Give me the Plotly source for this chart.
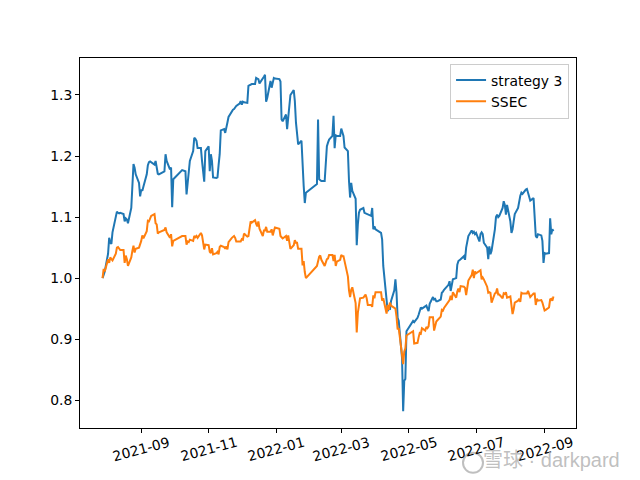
import plotly.graph_objects as go

# strategy 3 net value
strategy = [
    ("2021-07-28", 1.000), ("2021-07-29", 1.005), ("2021-07-30", 1.011), ("2021-08-02", 1.040),
    ("2021-08-03", 1.066), ("2021-08-04", 1.058), ("2021-08-05", 1.056), ("2021-08-06", 1.075),
    ("2021-08-09", 1.100), ("2021-08-10", 1.109), ("2021-08-11", 1.107), ("2021-08-12", 1.106),
    ("2021-08-13", 1.107), ("2021-08-16", 1.105), ("2021-08-17", 1.093), ("2021-08-18", 1.098),
    ("2021-08-19", 1.096), ("2021-08-20", 1.090), ("2021-08-23", 1.115), ("2021-08-24", 1.160),
    ("2021-08-25", 1.187), ("2021-08-26", 1.181), ("2021-08-27", 1.170), ("2021-08-30", 1.156),
    ("2021-08-31", 1.134), ("2021-09-01", 1.145), ("2021-09-02", 1.143), ("2021-09-03", 1.150),
    ("2021-09-06", 1.170), ("2021-09-07", 1.185), ("2021-09-08", 1.190), ("2021-09-09", 1.191),
    ("2021-09-10", 1.190), ("2021-09-13", 1.186), ("2021-09-14", 1.192), ("2021-09-15", 1.182),
    ("2021-09-16", 1.171), ("2021-09-17", 1.170), ("2021-09-22", 1.175), ("2021-09-23", 1.203),
    ("2021-09-24", 1.192), ("2021-09-27", 1.178), ("2021-09-28", 1.181), ("2021-09-29", 1.116),
    ("2021-09-30", 1.162), ("2021-10-08", 1.177), ("2021-10-11", 1.175), ("2021-10-12", 1.137),
    ("2021-10-13", 1.154), ("2021-10-14", 1.170), ("2021-10-15", 1.192), ("2021-10-18", 1.208),
    ("2021-10-19", 1.230), ("2021-10-20", 1.228), ("2021-10-21", 1.225), ("2021-10-22", 1.213),
    ("2021-10-25", 1.213), ("2021-10-26", 1.192), ("2021-10-27", 1.170), ("2021-10-28", 1.158),
    ("2021-10-29", 1.208), ("2021-11-01", 1.216), ("2021-11-02", 1.175), ("2021-11-03", 1.203),
    ("2021-11-04", 1.192), ("2021-11-05", 1.165), ("2021-11-08", 1.164), ("2021-11-09", 1.165),
    ("2021-11-10", 1.185), ("2021-11-11", 1.203), ("2021-11-12", 1.242), ("2021-11-15", 1.244),
    ("2021-11-16", 1.238), ("2021-11-17", 1.250), ("2021-11-18", 1.255), ("2021-11-19", 1.264),
    ("2021-11-22", 1.275), ("2021-11-23", 1.276), ("2021-11-24", 1.277), ("2021-11-25", 1.280),
    ("2021-11-26", 1.282), ("2021-11-29", 1.286), ("2021-11-30", 1.290), ("2021-12-01", 1.284),
    ("2021-12-02", 1.289), ("2021-12-03", 1.288), ("2021-12-06", 1.287), ("2021-12-07", 1.315),
    ("2021-12-08", 1.316), ("2021-12-09", 1.317), ("2021-12-10", 1.318), ("2021-12-13", 1.318),
    ("2021-12-14", 1.328), ("2021-12-15", 1.327), ("2021-12-16", 1.326), ("2021-12-17", 1.319),
    ("2021-12-20", 1.326), ("2021-12-21", 1.330), ("2021-12-22", 1.333), ("2021-12-23", 1.289),
    ("2021-12-24", 1.295), ("2021-12-27", 1.323), ("2021-12-28", 1.312), ("2021-12-29", 1.320),
    ("2021-12-30", 1.328), ("2021-12-31", 1.327), ("2022-01-04", 1.326), ("2022-01-05", 1.322),
    ("2022-01-06", 1.260), ("2022-01-07", 1.257), ("2022-01-10", 1.268), ("2022-01-11", 1.244),
    ("2022-01-12", 1.260), ("2022-01-13", 1.285), ("2022-01-14", 1.300), ("2022-01-17", 1.308),
    ("2022-01-18", 1.290), ("2022-01-19", 1.255), ("2022-01-20", 1.230), ("2022-01-21", 1.219),
    ("2022-01-24", 1.225), ("2022-01-25", 1.175), ("2022-01-26", 1.151), ("2022-01-27", 1.123),
    ("2022-01-28", 1.140), ("2022-02-07", 1.154), ("2022-02-08", 1.260), ("2022-02-09", 1.162),
    ("2022-02-10", 1.160), ("2022-02-11", 1.159), ("2022-02-14", 1.159), ("2022-02-15", 1.190),
    ("2022-02-16", 1.216), ("2022-02-17", 1.222), ("2022-02-18", 1.227), ("2022-02-21", 1.233),
    ("2022-02-22", 1.266), ("2022-02-23", 1.213), ("2022-02-24", 1.234), ("2022-02-25", 1.233),
    ("2022-02-28", 1.233), ("2022-03-01", 1.245), ("2022-03-02", 1.240), ("2022-03-03", 1.233),
    ("2022-03-04", 1.214), ("2022-03-07", 1.208), ("2022-03-08", 1.159), ("2022-03-09", 1.132),
    ("2022-03-10", 1.156), ("2022-03-11", 1.143), ("2022-03-14", 1.130), ("2022-03-15", 1.054),
    ("2022-03-16", 1.088), ("2022-03-17", 1.107), ("2022-03-18", 1.112), ("2022-03-21", 1.115),
    ("2022-03-22", 1.107), ("2022-03-23", 1.106), ("2022-03-24", 1.105), ("2022-03-25", 1.104),
    ("2022-03-28", 1.102), ("2022-03-29", 1.115), ("2022-03-30", 1.080), ("2022-03-31", 1.085),
    ("2022-04-01", 1.080), ("2022-04-06", 1.074), ("2022-04-07", 1.063), ("2022-04-08", 1.020),
    ("2022-04-11", 0.957), ("2022-04-12", 0.946), ("2022-04-13", 0.952), ("2022-04-14", 0.948),
    ("2022-04-15", 0.962), ("2022-04-18", 0.980), ("2022-04-19", 0.998), ("2022-04-20", 0.976),
    ("2022-04-21", 0.935), ("2022-04-22", 0.930), ("2022-04-25", 0.869), ("2022-04-26", 0.782),
    ("2022-04-27", 0.832), ("2022-04-28", 0.835), ("2022-04-29", 0.913), ("2022-05-05", 0.930),
    ("2022-05-06", 0.928), ("2022-05-09", 0.935), ("2022-05-10", 0.940), ("2022-05-11", 0.948),
    ("2022-05-12", 0.952), ("2022-05-13", 0.950), ("2022-05-16", 0.954), ("2022-05-17", 0.955),
    ("2022-05-18", 0.950), ("2022-05-19", 0.946), ("2022-05-20", 0.958), ("2022-05-23", 0.969),
    ("2022-05-24", 0.965), ("2022-05-25", 0.966), ("2022-05-26", 0.962), ("2022-05-27", 0.962),
    ("2022-05-30", 0.965), ("2022-05-31", 0.976), ("2022-06-01", 0.978), ("2022-06-02", 0.981),
    ("2022-06-06", 0.989), ("2022-06-07", 0.995), ("2022-06-08", 0.979), ("2022-06-09", 0.993),
    ("2022-06-10", 0.998), ("2022-06-13", 1.000), ("2022-06-14", 1.022), ("2022-06-15", 1.028),
    ("2022-06-16", 1.030), ("2022-06-17", 1.031), ("2022-06-20", 1.036), ("2022-06-21", 1.030),
    ("2022-06-22", 1.050), ("2022-06-23", 1.058), ("2022-06-24", 1.069), ("2022-06-27", 1.078),
    ("2022-06-28", 1.074), ("2022-06-29", 1.076), ("2022-06-30", 1.072), ("2022-07-01", 1.074),
    ("2022-07-04", 1.060), ("2022-07-05", 1.072), ("2022-07-06", 1.075), ("2022-07-07", 1.072),
    ("2022-07-08", 1.058), ("2022-07-11", 1.050), ("2022-07-12", 1.031), ("2022-07-13", 1.052),
    ("2022-07-14", 1.039), ("2022-07-15", 1.045), ("2022-07-18", 1.080), ("2022-07-19", 1.100),
    ("2022-07-20", 1.104), ("2022-07-21", 1.100), ("2022-07-22", 1.102), ("2022-07-25", 1.115),
    ("2022-07-26", 1.126), ("2022-07-27", 1.120), ("2022-07-28", 1.104), ("2022-07-29", 1.120),
    ("2022-08-01", 1.093), ("2022-08-02", 1.074), ("2022-08-03", 1.080), ("2022-08-04", 1.093),
    ("2022-08-05", 1.105), ("2022-08-08", 1.115), ("2022-08-09", 1.129), ("2022-08-10", 1.135),
    ("2022-08-11", 1.140), ("2022-08-12", 1.138), ("2022-08-15", 1.145), ("2022-08-16", 1.146),
    ("2022-08-17", 1.140), ("2022-08-18", 1.132), ("2022-08-19", 1.127), ("2022-08-22", 1.131),
    ("2022-08-23", 1.100), ("2022-08-24", 1.069), ("2022-08-25", 1.066), ("2022-08-26", 1.072),
    ("2022-08-29", 1.070), ("2022-08-30", 1.061), ("2022-08-31", 1.025), ("2022-09-01", 1.041),
    ("2022-09-02", 1.040), ("2022-09-05", 1.041), ("2022-09-06", 1.098), ("2022-09-07", 1.072),
    ("2022-09-08", 1.080), ("2022-09-09", 1.077),
]

# SSEC normalised to the first day
ssec = [
    ("2021-07-28", 1.000), ("2021-07-29", 1.015), ("2021-07-30", 1.011), ("2021-08-02", 1.031),
    ("2021-08-03", 1.025), ("2021-08-04", 1.034), ("2021-08-05", 1.031), ("2021-08-06", 1.029),
    ("2021-08-09", 1.040), ("2021-08-10", 1.050), ("2021-08-11", 1.051), ("2021-08-12", 1.049),
    ("2021-08-13", 1.046), ("2021-08-16", 1.046), ("2021-08-17", 1.025), ("2021-08-18", 1.037),
    ("2021-08-19", 1.031), ("2021-08-20", 1.020), ("2021-08-23", 1.034), ("2021-08-24", 1.045),
    ("2021-08-25", 1.053), ("2021-08-26", 1.042), ("2021-08-27", 1.048), ("2021-08-30", 1.050),
    ("2021-08-31", 1.054), ("2021-09-01", 1.061), ("2021-09-02", 1.070), ("2021-09-03", 1.065),
    ("2021-09-06", 1.077), ("2021-09-07", 1.094), ("2021-09-08", 1.093), ("2021-09-09", 1.099),
    ("2021-09-10", 1.102), ("2021-09-13", 1.105), ("2021-09-14", 1.090), ("2021-09-15", 1.088),
    ("2021-09-16", 1.073), ("2021-09-17", 1.075), ("2021-09-22", 1.079), ("2021-09-23", 1.083),
    ("2021-09-24", 1.075), ("2021-09-27", 1.066), ("2021-09-28", 1.072), ("2021-09-29", 1.052),
    ("2021-09-30", 1.061), ("2021-10-08", 1.069), ("2021-10-11", 1.069), ("2021-10-12", 1.055),
    ("2021-10-13", 1.060), ("2021-10-14", 1.059), ("2021-10-15", 1.063), ("2021-10-18", 1.061),
    ("2021-10-19", 1.069), ("2021-10-20", 1.067), ("2021-10-21", 1.069), ("2021-10-22", 1.066),
    ("2021-10-25", 1.074), ("2021-10-26", 1.070), ("2021-10-27", 1.060), ("2021-10-28", 1.047),
    ("2021-10-29", 1.055), ("2021-11-01", 1.054), ("2021-11-02", 1.043), ("2021-11-03", 1.041),
    ("2021-11-04", 1.049), ("2021-11-05", 1.039), ("2021-11-08", 1.041), ("2021-11-09", 1.043),
    ("2021-11-10", 1.039), ("2021-11-11", 1.051), ("2021-11-12", 1.053), ("2021-11-15", 1.051),
    ("2021-11-16", 1.048), ("2021-11-17", 1.052), ("2021-11-18", 1.047), ("2021-11-19", 1.059),
    ("2021-11-22", 1.066), ("2021-11-23", 1.068), ("2021-11-24", 1.069), ("2021-11-25", 1.066),
    ("2021-11-26", 1.060), ("2021-11-29", 1.060), ("2021-11-30", 1.060), ("2021-12-01", 1.064),
    ("2021-12-02", 1.063), ("2021-12-03", 1.073), ("2021-12-06", 1.068), ("2021-12-07", 1.069),
    ("2021-12-08", 1.082), ("2021-12-09", 1.093), ("2021-12-10", 1.091), ("2021-12-13", 1.095),
    ("2021-12-14", 1.089), ("2021-12-15", 1.085), ("2021-12-16", 1.093), ("2021-12-17", 1.081),
    ("2021-12-20", 1.069), ("2021-12-21", 1.078), ("2021-12-22", 1.078), ("2021-12-23", 1.084),
    ("2021-12-24", 1.076), ("2021-12-27", 1.076), ("2021-12-28", 1.080), ("2021-12-29", 1.070),
    ("2021-12-30", 1.077), ("2021-12-31", 1.083), ("2022-01-04", 1.081), ("2022-01-05", 1.069),
    ("2022-01-06", 1.067), ("2022-01-07", 1.065), ("2022-01-10", 1.069), ("2022-01-11", 1.061),
    ("2022-01-12", 1.070), ("2022-01-13", 1.058), ("2022-01-14", 1.048), ("2022-01-17", 1.054),
    ("2022-01-18", 1.062), ("2022-01-19", 1.058), ("2022-01-20", 1.058), ("2022-01-21", 1.048),
    ("2022-01-24", 1.048), ("2022-01-25", 1.021), ("2022-01-26", 1.028), ("2022-01-27", 1.010),
    ("2022-01-28", 1.000), ("2022-02-07", 1.020), ("2022-02-08", 1.027), ("2022-02-09", 1.035),
    ("2022-02-10", 1.037), ("2022-02-11", 1.030), ("2022-02-14", 1.020), ("2022-02-15", 1.025),
    ("2022-02-16", 1.031), ("2022-02-17", 1.032), ("2022-02-18", 1.038), ("2022-02-21", 1.038),
    ("2022-02-22", 1.028), ("2022-02-23", 1.038), ("2022-02-24", 1.020), ("2022-02-25", 1.027),
    ("2022-02-28", 1.030), ("2022-03-01", 1.038), ("2022-03-02", 1.036), ("2022-03-03", 1.036),
    ("2022-03-04", 1.026), ("2022-03-07", 1.003), ("2022-03-08", 0.980), ("2022-03-09", 0.969),
    ("2022-03-10", 0.981), ("2022-03-11", 0.985), ("2022-03-14", 0.959), ("2022-03-15", 0.911),
    ("2022-03-16", 0.943), ("2022-03-17", 0.956), ("2022-03-18", 0.967), ("2022-03-21", 0.968),
    ("2022-03-22", 0.970), ("2022-03-23", 0.973), ("2022-03-24", 0.967), ("2022-03-25", 0.956),
    ("2022-03-28", 0.956), ("2022-03-29", 0.953), ("2022-03-30", 0.972), ("2022-03-31", 0.967),
    ("2022-04-01", 0.977), ("2022-04-06", 0.977), ("2022-04-07", 0.963), ("2022-04-08", 0.967),
    ("2022-04-11", 0.942), ("2022-04-12", 0.956), ("2022-04-13", 0.948), ("2022-04-14", 0.960),
    ("2022-04-15", 0.955), ("2022-04-18", 0.951), ("2022-04-19", 0.950), ("2022-04-20", 0.937),
    ("2022-04-21", 0.916), ("2022-04-22", 0.918), ("2022-04-25", 0.871), ("2022-04-26", 0.859),
    ("2022-04-27", 0.880), ("2022-04-28", 0.885), ("2022-04-29", 0.906), ("2022-05-05", 0.913),
    ("2022-05-06", 0.893), ("2022-05-09", 0.894), ("2022-05-10", 0.903), ("2022-05-11", 0.910),
    ("2022-05-12", 0.909), ("2022-05-13", 0.918), ("2022-05-16", 0.914), ("2022-05-17", 0.920),
    ("2022-05-18", 0.918), ("2022-05-19", 0.921), ("2022-05-20", 0.936), ("2022-05-23", 0.936),
    ("2022-05-24", 0.914), ("2022-05-25", 0.924), ("2022-05-26", 0.929), ("2022-05-27", 0.931),
    ("2022-05-30", 0.937), ("2022-05-31", 0.948), ("2022-06-01", 0.947), ("2022-06-02", 0.951),
    ("2022-06-06", 0.963), ("2022-06-07", 0.964), ("2022-06-08", 0.971), ("2022-06-09", 0.964),
    ("2022-06-10", 0.977), ("2022-06-13", 0.968), ("2022-06-14", 0.978), ("2022-06-15", 0.983),
    ("2022-06-16", 0.977), ("2022-06-17", 0.987), ("2022-06-20", 0.986), ("2022-06-21", 0.984),
    ("2022-06-22", 0.972), ("2022-06-23", 0.988), ("2022-06-24", 0.996), ("2022-06-27", 1.005),
    ("2022-06-28", 1.014), ("2022-06-29", 1.000), ("2022-06-30", 1.011), ("2022-07-01", 1.008),
    ("2022-07-04", 1.013), ("2022-07-05", 1.013), ("2022-07-06", 0.998), ("2022-07-07", 1.001),
    ("2022-07-08", 0.998), ("2022-07-11", 0.986), ("2022-07-12", 0.976), ("2022-07-13", 0.977),
    ("2022-07-14", 0.976), ("2022-07-15", 0.960), ("2022-07-18", 0.975), ("2022-07-19", 0.976),
    ("2022-07-20", 0.983), ("2022-07-21", 0.973), ("2022-07-22", 0.973), ("2022-07-25", 0.967),
    ("2022-07-26", 0.975), ("2022-07-27", 0.974), ("2022-07-28", 0.977), ("2022-07-29", 0.968),
    ("2022-08-01", 0.970), ("2022-08-02", 0.948), ("2022-08-03", 0.941), ("2022-08-04", 0.949),
    ("2022-08-05", 0.960), ("2022-08-08", 0.963), ("2022-08-09", 0.966), ("2022-08-10", 0.961),
    ("2022-08-11", 0.976), ("2022-08-12", 0.975), ("2022-08-15", 0.975), ("2022-08-16", 0.975),
    ("2022-08-17", 0.979), ("2022-08-18", 0.975), ("2022-08-19", 0.969), ("2022-08-22", 0.975),
    ("2022-08-23", 0.975), ("2022-08-24", 0.956), ("2022-08-25", 0.966), ("2022-08-26", 0.963),
    ("2022-08-29", 0.964), ("2022-08-30", 0.960), ("2022-08-31", 0.953), ("2022-09-01", 0.947),
    ("2022-09-02", 0.948), ("2022-09-05", 0.952), ("2022-09-06", 0.965), ("2022-09-07", 0.966),
    ("2022-09-08", 0.963), ("2022-09-09", 0.970),
]

x_tick_values = ["2021-09-01", "2021-11-01", "2022-01-01", "2022-03-01",
                 "2022-05-01", "2022-07-01", "2022-09-01"]
x_tick_labels = ["2021-09", "2021-11", "2022-01", "2022-03", "2022-05", "2022-07", "2022-09"]
y_tick_values = [0.8, 0.9, 1.0, 1.1, 1.2, 1.3]
y_tick_labels = ["0.8", "0.9", "1.0", "1.1", "1.2", "1.3"]

strat_dates = [d for d, _ in strategy]
strat_values = [v for _, v in strategy]
ssec_dates = [d for d, _ in ssec]
ssec_values = [v for _, v in ssec]

FONT = "DejaVu Sans"

fig = go.Figure()
fig.add_trace(go.Scatter(x=strat_dates, y=strat_values, mode="lines", name="strategy 3",
                         line=dict(color="#1f77b4", width=2)))
fig.add_trace(go.Scatter(x=ssec_dates, y=ssec_values, mode="lines", name="SSEC",
                         line=dict(color="#ff7f0e", width=2)))

axis_common = dict(showline=True, linecolor="black", linewidth=1, mirror=True,
                   ticks="outside", ticklen=4, tickcolor="black", tickwidth=1,
                   showgrid=False, zeroline=False,
                   tickfont=dict(family=FONT, size=13.9, color="black"))

fig.update_xaxes(type="date", range=["2021-07-07 14:24", "2022-09-29 09:36"],
                 tickmode="array", tickvals=x_tick_values, ticktext=x_tick_labels,
                 showticklabels=False, **axis_common)
fig.update_yaxes(range=[0.7545, 1.3606], tickmode="array",
                 tickvals=y_tick_values, ticktext=y_tick_labels, **axis_common)

# rotated x tick labels, centred under each tick (like matplotlib rotation=15)
annotations = [dict(text=lab, x=val, xref="x", y=-0.056, yref="paper",
                    xanchor="center", yanchor="middle", textangle=-15, showarrow=False,
                    font=dict(family=FONT, size=13.9, color="black"))
               for val, lab in zip(x_tick_values, x_tick_labels)]

# watermark
annotations.append(dict(text="雪球 · darkpard", xref="paper", yref="paper",
                        x=1.093, y=-0.0875, xanchor="right", yanchor="middle",
                        showarrow=False,
                        font=dict(family="Liberation Sans, Noto Sans CJK SC", size=20,
                                  color="rgba(175,175,175,0.8)")))

fig.update_layout(
    width=640, height=480,
    margin=dict(l=72, r=72, t=50, b=60),
    paper_bgcolor="white", plot_bgcolor="white",
    font=dict(family=FONT, size=13.9, color="black"),
    showlegend=True,
    legend=dict(x=0.986, y=0.985, xanchor="right", yanchor="top",
                bgcolor="rgba(255,255,255,0.8)", bordercolor="#cccccc", borderwidth=1,
                font=dict(family=FONT, size=13.9, color="black")),
    annotations=annotations,
    shapes=[dict(type="circle", xref="paper", yref="paper",
                 x0=(463 - 80) / 496, x1=(483 - 80) / 496,
                 y0=1 - (472 - 57.6) / 369.6, y1=1 - (452 - 57.6) / 369.6,
                 line=dict(color="rgba(175,175,175,0.8)", width=2))],
)

fig.write_html("out.html")
